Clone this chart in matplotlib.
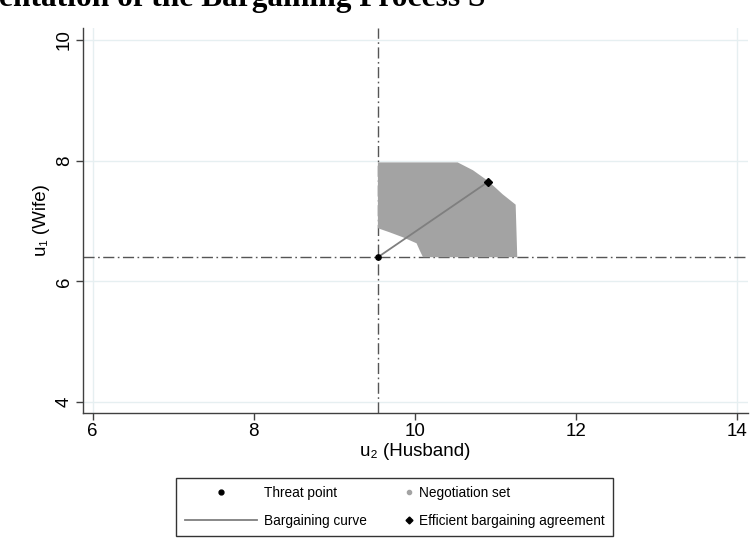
import matplotlib
matplotlib.use('Agg')
import matplotlib.pyplot as plt
from matplotlib.lines import Line2D
from matplotlib.legend_handler import HandlerLine2D

plt.rcParams['font.family'] = ['Liberation Sans', 'DejaVu Sans']

# threat point and efficient agreement (u2 = husband, u1 = wife)
threat = (9.54, 6.40)
agreement = (10.91, 7.65)

# outline of the negotiation set
neg_x = [9.54, 10.53, 10.72, 10.91, 11.09, 11.25, 11.27, 10.10, 10.06, 10.02, 9.85, 9.69, 9.54]
neg_y = [7.97, 7.97, 7.84, 7.66, 7.44, 7.27, 6.40, 6.40, 6.51, 6.63, 6.73, 6.81, 6.88]

x_ticks = [6, 8, 10, 12, 14]
y_ticks = [4, 6, 8, 10]


class RightMarker(HandlerLine2D):
    # put the marker at the right end of the key, like Stata does
    def create_artists(self, legend, orig_handle, xdescent, ydescent,
                       width, height, fontsize, trans):
        arts = super().create_artists(legend, orig_handle, xdescent, ydescent,
                                      width, height, fontsize, trans)
        for a in arts:
            n = len(a.get_xdata())
            a.set_xdata([width - xdescent - 2] * n)
        return arts


fig = plt.figure(figsize=(7.52, 5.56), dpi=100)
ax = fig.add_axes([0.110, 0.257, 0.885, 0.693])

grid_c = '#E6EFF1'
for y in y_ticks:
    ax.axhline(y, color=grid_c, lw=1, zorder=0)
for x in [x_ticks[0], x_ticks[-1]]:
    ax.axvline(x, color=grid_c, lw=1, zorder=0)

ax.fill(neg_x, neg_y, color='#A3A3A3', lw=0, zorder=2)

dash = (0, (8, 2.5, 1.2, 2.5))
ax.axvline(threat[0], color='#555555', lw=1, ls=dash, zorder=1)
ax.axhline(threat[1], color='#555555', lw=1, ls=dash, zorder=1)

ax.plot([threat[0], agreement[0]], [threat[1], agreement[1]],
        color='#7F7F7F', lw=1.3, zorder=3)
ax.plot(*threat, 'o', color='black', ms=3.8, zorder=4)
ax.plot(*agreement, 'D', color='black', ms=4.5, zorder=4)

ax.set_xlim(5.876, 14.137)
ax.set_ylim(3.818, 10.199)
ax.set_xticks(x_ticks)
ax.set_yticks(y_ticks)
ax.tick_params(direction='out', length=5, width=1, color='#404040',
               labelsize=13.5, pad=2)
for lab in ax.get_yticklabels():
    lab.set_rotation(90)
    lab.set_va('center')
for s in ['top', 'right']:
    ax.spines[s].set_visible(False)
for s in ['left', 'bottom']:
    ax.spines[s].set_color('#404040')
    ax.spines[s].set_linewidth(1)

ax.set_xlabel('u\u2082 (Husband)', fontsize=13.5, labelpad=2)
ax.set_ylabel('u\u2081 (Wife)', fontsize=13.5, labelpad=4)

# title is cropped at the top-left edge in the source image
fig.text(0.645, 0.989, 'Representation of the Bargaining Process S',
         ha='right', va='baseline', fontsize=22.6, fontweight='bold',
         family=['Liberation Serif', 'DejaVu Serif'])

h_threat = Line2D([], [], marker='o', ls='none', color='black', ms=3.5)
h_curve = Line2D([], [], color='#7F7F7F', lw=1.3)
h_neg = Line2D([], [], marker='o', ls='none', color='#A3A3A3', ms=3)
h_eff = Line2D([], [], marker='D', ls='none', color='black', ms=3.5)

leg = fig.legend([h_threat, h_curve, h_neg, h_eff],
                 ['Threat point', 'Bargaining curve', 'Negotiation set',
                  'Efficient bargaining agreement'],
                 ncol=2, loc='center', bbox_to_anchor=(0.525, 0.088),
                 fontsize=9.8, handlelength=5.3, handletextpad=0.55,
                 columnspacing=-2.0, labelspacing=1.05, borderpad=0.6,
                 fancybox=False, framealpha=1, edgecolor='#333333',
                 handler_map={h_neg: RightMarker(), h_eff: RightMarker()})
leg.get_frame().set_linewidth(1)

fig.savefig('out.png', dpi=100)
